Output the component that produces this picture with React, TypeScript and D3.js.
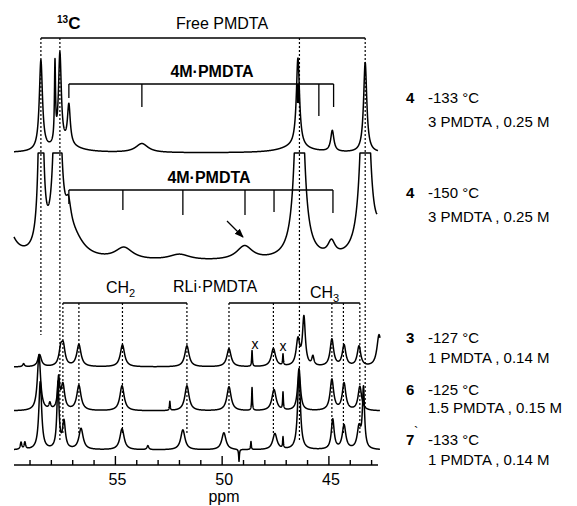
import React, { useEffect } from 'react';
import * as d3 from 'd3';

// peak lists: [ppm, intensity, half width (ppm)]
const peaks4a = [
  [58.49, 90, 0.09], [57.83, 78, 0.03], [57.6, 92, 0.08], [57.18, 40, 0.08],
  [57.3, 6, 0.8], [53.76, 9, 0.35], [46.6, 6, 0.8], [46.45, 89, 0.09],
  [44.84, 21, 0.09], [43.3, 90, 0.09],
];
const peaks4b = [
  [60.3, 60, 0.4], [58.49, 260, 0.1], [57.72, 300, 0.14], [57.2, 25, 0.15],
  [57.0, 20, 0.6], [54.6, 12, 0.5], [52.0, 6, 0.6], [48.95, 14, 0.45],
  [46.38, 300, 0.18], [44.88, 14, 0.2], [43.3, 300, 0.18], [42.5, 30, 0.3],
];
const peaks3 = [
  [59.3, 3, 0.05], [58.55, 12, 0.1], [57.56, 16, 0.1], [57.44, 18, 0.1],
  [56.71, 22, 0.12], [54.67, 22, 0.12], [51.65, 21, 0.12], [49.68, 18, 0.12],
  [48.6, 16, 0.02], [47.6, 18, 0.12], [47.15, 11, 0.02], [46.45, 26, 0.1],
  [46.17, 48, 0.08], [45.75, 9, 0.06], [44.86, 27, 0.1], [44.29, 21, 0.1],
  [43.59, 20, 0.1], [42.65, 32, 0.12],
];
const peaks6 = [
  [58.58, 56, 0.09], [58.07, 6, 0.05], [57.66, 30, 0.06], [57.46, 25, 0.1],
  [56.71, 25, 0.12], [54.69, 25, 0.12], [52.45, 9, 0.02], [51.65, 25, 0.12],
  [49.68, 24, 0.12], [48.6, 23, 0.02], [47.57, 21, 0.12], [47.15, 17, 0.02],
  [46.4, 42, 0.08], [44.86, 31, 0.1], [44.29, 27, 0.1], [43.55, 24, 0.1],
];
const peaks7 = [
  [59.42, 7, 0.04], [59.24, 7, 0.04], [58.52, 68, 0.08], [57.69, 66, 0.06],
  [57.41, 27, 0.08], [56.61, 21, 0.12], [54.69, 21, 0.12], [53.48, 4, 0.05],
  [51.84, 20, 0.12], [49.92, 17, 0.12], [49.21, -12, 0.02], [48.65, 8, 0.02],
  [47.53, 16, 0.12], [47.15, 11, 0.02], [46.4, 76, 0.08], [44.82, 30, 0.08],
  [44.29, 24, 0.1], [43.59, 21, 0.1], [43.38, 60, 0.06],
];

const freePmdta = [58.49, 57.6, 46.38, 43.3];
const freeEnds = [335, 440, 440, 410];
const m4aSticks = [57.18, 53.76, 46.45, 45.47, 44.78];
const m4aLen = [14, 23, 19, 32, 23];
const m4bSticks = [57.18, 54.65, 51.84, 48.93, 47.57, 44.81];
const m4bLen = [14, 20, 25, 25, 22, 23];
const ch2 = [57.46, 56.71, 54.67, 51.65];
const ch3 = [49.68, 47.6, 44.86, 44.32, 43.55];
const majorTicks = [55, 50, 45];
const minorTicks = d3.range(43, 60);

const labels = [
  { n: '4', t: '-133 °C', c: '3 PMDTA , 0.25 M', y: 103, dy: 24 },
  { n: '4', t: '-150 °C', c: '3 PMDTA , 0.25 M', y: 198, dy: 24 },
  { n: '3', t: '-127 °C', c: '1 PMDTA , 0.14 M', y: 343, dy: 20 },
  { n: '6', t: '-125 °C', c: '1.5 PMDTA , 0.15 M', y: 395, dy: 18 },
  { n: '7', t: '-133 °C', c: '1 PMDTA , 0.14 M', y: 445, dy: 20 },
];

const font = '"Liberation Sans", Arial, Helvetica, sans-serif';

const x = d3.scaleLinear().domain([59.75, 42.7]).range([14, 378]);

function trace(peaks, base, x0, x1, clip?) {
  const y = d3.scaleLinear().domain([0, 100]).range([base, base - 100]);
  const pts = d3.range(x.invert(x0), x.invert(x1), -0.004).map((p) => {
    const v = d3.sum(peaks, ([c, h, w]) => h / (1 + ((p - c) / w) ** 2));
    let yy = y(v);
    if (clip !== undefined) yy = Math.max(yy, clip);
    return [x(p), yy];
  });
  return d3.line()(pts);
}

export default function App() {
  useEffect(() => { document.body.style.margin = '0'; }, []);
  const dot = { stroke: '#000', strokeWidth: 1.2, strokeDasharray: '2,2' };
  return (
    <svg width={577} height={506} style={{ display: 'block', background: '#fff' }} fontFamily={font}>
      {/* free PMDTA */}
      <line x1={x(58.49)} x2={x(43.3)} y1={38} y2={38} stroke="#000" strokeWidth={1.4} />
      {freePmdta.map((p, i) => (
        <line key={i} x1={x(p)} x2={x(p)} y1={38} y2={freeEnds[i]} {...dot} />
      ))}
      <text x={57} y={29} fontWeight="bold" fontSize={17}>
        <tspan fontSize={10} dy={-6}>13</tspan><tspan dy={6}>C</tspan>
      </text>
      <text x={222} y={29} fontSize={16} textAnchor="middle">Free PMDTA</text>

      {/* 4M·PMDTA brackets */}
      <text x={212} y={77} fontSize={16} fontWeight="bold" textAnchor="middle">4M·PMDTA</text>
      <g stroke="#000" strokeWidth={1.3} fill="none">
        <line x1={x(57.18)} x2={x(44.78)} y1={84} y2={84} />
        {m4aSticks.map((s, i) => (
          <line key={i} x1={x(s)} x2={x(s)} y1={84} y2={84 + m4aLen[i]} strokeWidth={i === 2 ? 2.6 : 1.3} />
        ))}
      </g>
      <text x={209} y={183} fontSize={16} fontWeight="bold" textAnchor="middle">4M·PMDTA</text>
      <g stroke="#000" strokeWidth={1.3} fill="none">
        <line x1={x(57.18)} x2={x(44.81)} y1={190} y2={190} />
        {m4bSticks.map((s, i) => (
          <line key={i} x1={x(s)} x2={x(s)} y1={190} y2={190 + m4bLen[i]} />
        ))}
      </g>
      <defs>
        <marker id="ah" viewBox="0 0 10 10" refX={9} refY={5} markerWidth={7} markerHeight={7} orient="auto">
          <path d="M0,1L10,5L0,9z" fill="#000" />
        </marker>
      </defs>
      <line x1={227} y1={221} x2={243} y2={237} stroke="#000" strokeWidth={1.3} markerEnd="url(#ah)" />

      {/* RLi·PMDTA */}
      <text x={215} y={292} fontSize={16} textAnchor="middle">RLi·PMDTA</text>
      <text x={106} y={293} fontSize={16}>CH<tspan fontSize={11} dy={4}>2</tspan></text>
      <text x={310} y={298} fontSize={16}>CH<tspan fontSize={11} dy={4}>3</tspan></text>
      <g stroke="#000" strokeWidth={1.3} fill="none">
        <line x1={x(ch2[0])} x2={x(ch2[ch2.length - 1])} y1={303} y2={303} />
        <line x1={x(ch3[0])} x2={x(ch3[ch3.length - 1])} y1={303} y2={303} />
      </g>
      {[...ch2, ...ch3].map((p, i) => (
        <line key={i} x1={x(p)} x2={x(p)} y1={303} y2={435} {...dot} />
      ))}

      {/* spectra */}
      <g fill="none" stroke="#000" strokeWidth={1.5} strokeLinejoin="round">
        <path d={trace(peaks4a, 153, 14, 378)} />
        <path d={trace(peaks4b, 262, 14, 377, 153)} />
        <path d={trace(peaks3, 367, 14, 380)} />
        <path d={trace(peaks6, 411, 14, 380)} />
        <path d={trace(peaks7, 450, 14, 380)} />
      </g>
      <text x={255} y={349} fontSize={14} textAnchor="middle">x</text>
      <text x={283} y={351} fontSize={14} textAnchor="middle">x</text>

      {/* axis */}
      <g stroke="#000" strokeWidth={1.4}>
        <line x1={14} x2={378} y1={465} y2={465} />
        {minorTicks.map((t) => (
          <line key={t} x1={x(t)} x2={x(t)} y1={465} y2={majorTicks.includes(t) ? 456 : 460} />
        ))}
      </g>
      {majorTicks.map((t) => (
        <text key={t} x={x(t) + 2} y={485} fontSize={16} textAnchor="middle">{t}</text>
      ))}
      <text x={224} y={502} fontSize={16} textAnchor="middle">ppm</text>

      {/* conditions */}
      {labels.map((l, i) => (
        <g key={i} fontSize={15}>
          <text x={406} y={l.y} fontWeight="bold">{l.n}</text>
          {l.n === '7' && <text x={414} y={l.y - 9} fontSize={13}>`</text>}
          <text x={428} y={l.y}>{l.t}</text>
          <text x={428} y={l.y + l.dy}>{l.c}</text>
        </g>
      ))}
    </svg>
  );
}
